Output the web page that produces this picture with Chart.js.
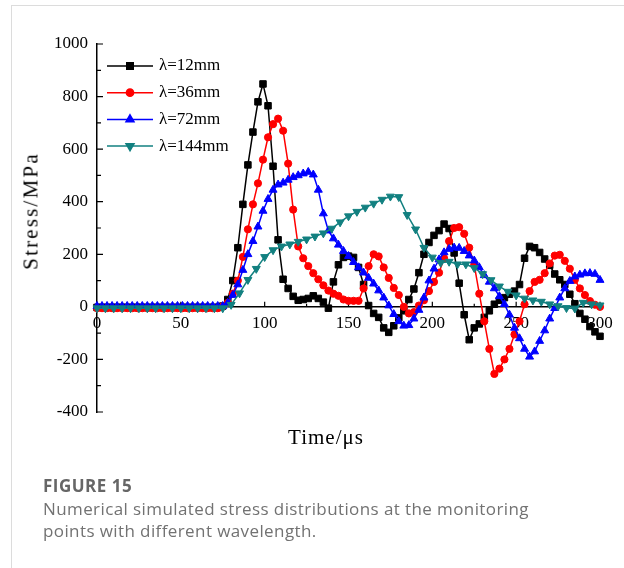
<!DOCTYPE html>
<html>
<head>
<meta charset="utf-8">
<script src="https://cdn.jsdelivr.net/npm/chart.js@4.4.1/dist/chart.umd.min.js"></script>
<style>
  body { margin: 0; background: #fff; }
  #page { position: relative; width: 624px; height: 568px; overflow: hidden; }
  #frame { position: absolute; left: 11px; top: 5px; width: 700px; height: 700px; border: 1px solid #dcdcdc; }
  #chart { position: absolute; left: 0; top: 0; }
  .axis-title { position: absolute; font-family: "Liberation Serif", serif; font-size: 21px; color: #000; white-space: nowrap; letter-spacing: 2.2px; }
  #ytitle { left: 31px; top: 211px; transform: translate(-50%, -50%) rotate(-90deg); }
  #xtitle { left: 326px; top: 437px; transform: translate(-50%, -50%); letter-spacing: 1px; }
  .cap { position: absolute; left: 43px; font-family: "Open Sans", Lato, sans-serif; white-space: nowrap; }
  #figno { top: 475px; font-size: 17px; line-height: 22px; font-weight: bold; color: #666; letter-spacing: 0.5px; }
  #figtxt { top: 498px; font-size: 17px; line-height: 22px; color: #727272; letter-spacing: 0.4px; }
</style>
</head>
<body>
<div id="page">
  <div id="frame"></div>
  <canvas id="chart" width="624" height="568"></canvas>
  <div class="axis-title" id="ytitle">Stress/MPa</div>
  <div class="axis-title" id="xtitle">Time/μs</div>
  <div class="cap" id="figno">FIGURE 15</div>
  <div class="cap" id="figtxt">Numerical simulated stress distributions at the monitoring<br>points with different wavelength.</div>
</div>
<script>
// time axis (us) for the 12/36/72 mm curves
var timeA = [0, 3, 6, 9, 12, 15, 18, 21, 24, 27, 30, 33, 36, 39, 42, 45, 48, 51, 54, 57, 60, 63, 66, 69, 72,
  75, 78, 81, 84, 87, 90, 93, 96, 99, 102, 105, 108, 111, 114, 117, 120, 123, 126, 129, 132,
  135, 138, 141, 144, 147, 150, 153, 156, 159, 162, 165, 168, 171, 174, 177, 180, 183, 186, 189, 192,
  195, 198, 201, 204, 207, 210, 213, 216, 219, 222, 225, 228, 231, 234, 237, 240, 243, 246, 249, 252,
  255, 258, 261, 264, 267, 270, 273, 276, 279, 282, 285, 288, 291, 294, 297, 300];
// time axis (us) for the 144 mm curve
var timeB = [0, 5, 10, 15, 20, 25, 30, 35, 40, 45, 50, 55, 60, 65, 70, 75,
  80, 85, 90, 95, 100, 105, 110, 115, 120, 125, 130, 135, 140, 145, 150, 155, 160, 165, 170, 175,
  180, 185, 190, 195, 200, 205, 210, 215, 220, 225, 230, 235, 240, 245, 250, 255, 260, 265, 270, 275,
  280, 285, 290, 295, 300];

var stress12 = [-2, -2, -2, -2, -2, -2, -2, -2, -2, -2, -2, -2, -2, -2, -2, -2, -2, -2, -2, -2, -2, -2, -2, -2, -2,
  3, 28, 100, 225, 390, 540, 665, 780, 848, 765,
  535, 255, 105, 70, 40, 25, 28, 32, 42, 32,
  18, -5, 95, 160, 188, 193, 188, 150, 85, 5,
  -25, -40, -80, -97, -72, -42, -15, 28, 68, 130,
  200, 245, 272, 290, 315, 298, 205, 90, -30, -125,
  -80, -65, -40, -15, 10, 25, 35, 48, 60, 85,
  185, 230, 225, 207, 182, 158, 125, 103, 85, 48,
  12, -25, -47, -75, -95, -112];

var stress36 = [-5, -5, -5, -5, -5, -5, -5, -5, -5, -5, -5, -5, -5, -5, -5, -5, -5, -5, -5, -5, -5, -5, -5, -5, -5,
  2, 15, 50, 100, 190, 295, 390, 470, 560, 645,
  695, 716, 670, 545, 370, 230, 185, 155, 128, 105,
  82, 62, 50, 42, 28, 23, 23, 23, 70, 155,
  200, 192, 150, 110, 72, 45, 0, -25, -20, 5,
  25, 60, 95, 130, 185, 250, 300, 303, 278, 225,
  160, 50, -55, -160, -255, -235, -200, -160, -105, -55,
  10, 60, 95, 103, 128, 165, 195, 198, 175, 145,
  103, 70, 45, 22, 8, 0];

var stress72 = [3, 3, 3, 3, 3, 3, 3, 3, 3, 3, 3, 3, 3, 3, 3, 3, 3, 3, 3, 3, 3, 3, 3, 3, 3,
  3, 15, 45, 85, 140, 200, 250, 305, 365, 410,
  445, 465, 472, 483, 493, 500, 507, 513, 503, 445,
  355, 290, 260, 236, 212, 193, 170, 150, 130, 110,
  88, 62, 35, 5, -28, -55, -72, -70, -45, -12,
  35, 100, 145, 180, 207, 220, 225, 224, 212, 195,
  176, 150, 120, 95, 70, 40, 10, -30, -80, -120,
  -160, -190, -170, -130, -90, -45, -5, 35, 70, 98,
  115, 122, 127, 128, 125, 102];

var stress144 = [-5, -5, -5, -5, -5, -5, -5, -5, -5, -5, -5, -5, -5, -5, -5, -5,
  8, 52, 103, 145, 190, 216, 230, 238, 248, 257,
  268, 280, 298, 322, 345, 362, 378, 393, 408, 420,
  418, 350, 295, 225, 188, 168, 172, 162, 162, 148,
  125, 102, 78, 58, 44, 32, 25, 20, 10, 3,
  -4, -6, 16, 10, 6];

var seriesNames = ['\u03bb=12mm', '\u03bb=36mm', '\u03bb=72mm', '\u03bb=144mm'];
var xTicks = [0, 50, 100, 150, 200, 250, 300];
var xMinor = [25, 75, 125, 175, 225, 275];
var yTicks = [-400, -200, 0, 200, 400, 600, 800, 1000];
var yMinor = [-300, -100, 100, 300, 500, 700, 900];

function pairs(t, v) {
  return t.map(function (x, i) { return { x: x, y: v[i] }; });
}

var serif = 'Liberation Serif';

// inward tick marks like the original plot
var innerTicks = {
  id: 'innerTicks',
  beforeDatasetsDraw: function (chart) {
    var ctx = chart.ctx, xs = chart.scales.x, ys = chart.scales.y;
    var y0 = ys.getPixelForValue(0), x0 = xs.getPixelForValue(0);
    ctx.save();
    ctx.strokeStyle = '#000';
    ctx.lineWidth = 1.2;
    ctx.beginPath();
    xTicks.concat(xMinor).forEach(function (t) {
      var px = xs.getPixelForValue(t), len = xTicks.indexOf(t) >= 0 ? 5 : 3;
      ctx.moveTo(px, y0); ctx.lineTo(px, y0 - len);
    });
    yTicks.concat(yMinor).forEach(function (v) {
      var py = ys.getPixelForValue(v), len = yTicks.indexOf(v) >= 0 ? 6 : 4;
      ctx.moveTo(x0, py); ctx.lineTo(x0 + len, py);
    });
    ctx.stroke();
    ctx.restore();
  }
};

function drawMarker(ctx, ds, x, y) {
  if (Chart.helpers && Chart.helpers.drawPoint) {
    Chart.helpers.drawPoint(ctx, {
      pointStyle: ds.pointStyle, rotation: ds.pointRotation || 0,
      radius: ds.pointRadius, borderWidth: 1
    }, x, y);
  } else {
    ctx.beginPath();
    ctx.arc(x, y, ds.pointRadius, 0, Math.PI * 2);
    ctx.fill();
  }
}

// legend inside the plot, top left
var innerLegend = {
  id: 'innerLegend',
  afterDraw: function (chart) {
    var ctx = chart.ctx;
    ctx.save();
    chart.data.datasets.forEach(function (ds, i) {
      var y = 66 + i * 26.7;
      ctx.strokeStyle = ds.borderColor;
      ctx.fillStyle = ds.backgroundColor;
      ctx.lineWidth = 1.5;
      ctx.beginPath();
      ctx.moveTo(107, y); ctx.lineTo(153, y);
      ctx.stroke();
      drawMarker(ctx, ds, 130, y);
      ctx.fillStyle = '#000';
      ctx.font = '17px "' + serif + '"';
      ctx.textBaseline = 'middle';
      ctx.textAlign = 'left';
      ctx.fillText(ds.label, 159, y);
    });
    ctx.restore();
  }
};

var colors = ['#000000', '#ff0000', '#0000ff', '#128080'];
var styles = ['rect', 'circle', 'triangle', 'triangle'];
var radii = [4.6, 3.6, 4.6, 4.6];
var rotations = [0, 0, 0, 180];
var times = [timeA, timeA, timeA, timeB];
var values = [stress12, stress36, stress72, stress144];

var datasets = values.map(function (v, i) {
  return {
    label: seriesNames[i],
    data: pairs(times[i], v),
    borderColor: colors[i],
    backgroundColor: colors[i],
    pointBackgroundColor: colors[i],
    pointBorderColor: colors[i],
    pointStyle: styles[i],
    pointRadius: radii[i],
    pointRotation: rotations[i],
    pointBorderWidth: 1,
    borderWidth: 1.5,
    tension: 0,
    fill: false,
    clip: false,
    order: 4 - i
  };
});

function plainLabel(value) { return String(value); }

var ctx = document.getElementById('chart').getContext('2d');
var stressChart = new Chart(ctx, {
  type: 'line',
  data: { datasets: datasets },
  options: {
    responsive: false,
    animation: false,
    devicePixelRatio: 1,
    layout: { padding: { left: 0, top: 44, right: 24, bottom: 156 } },
    plugins: { legend: { display: false }, tooltip: { enabled: false } },
    scales: {
      x: {
        type: 'linear',
        position: { y: 0 },
        min: 0,
        max: 300,
        afterBuildTicks: function (s) { s.ticks = xTicks.map(function (v) { return { value: v }; }); },
        afterFit: function (s) { s.height = 0; },
        grid: { display: false, drawTicks: false },
        border: { display: true, color: '#000', width: 1.5 },
        ticks: { autoSkip: false, maxRotation: 0, padding: 6, color: '#000', font: { family: serif, size: 17 }, callback: plainLabel }
      },
      y: {
        type: 'linear',
        min: -400,
        max: 1000,
        afterBuildTicks: function (s) { s.ticks = yTicks.map(function (v) { return { value: v }; }); },
        afterFit: function (s) { s.width = 97; },
        grid: { display: false, drawTicks: false },
        border: { display: true, color: '#000', width: 1.5 },
        ticks: { padding: 9, color: '#000', font: { family: serif, size: 17 }, callback: plainLabel }
      }
    }
  },
  plugins: [innerTicks, innerLegend]
});
</script>
</body>
</html>
